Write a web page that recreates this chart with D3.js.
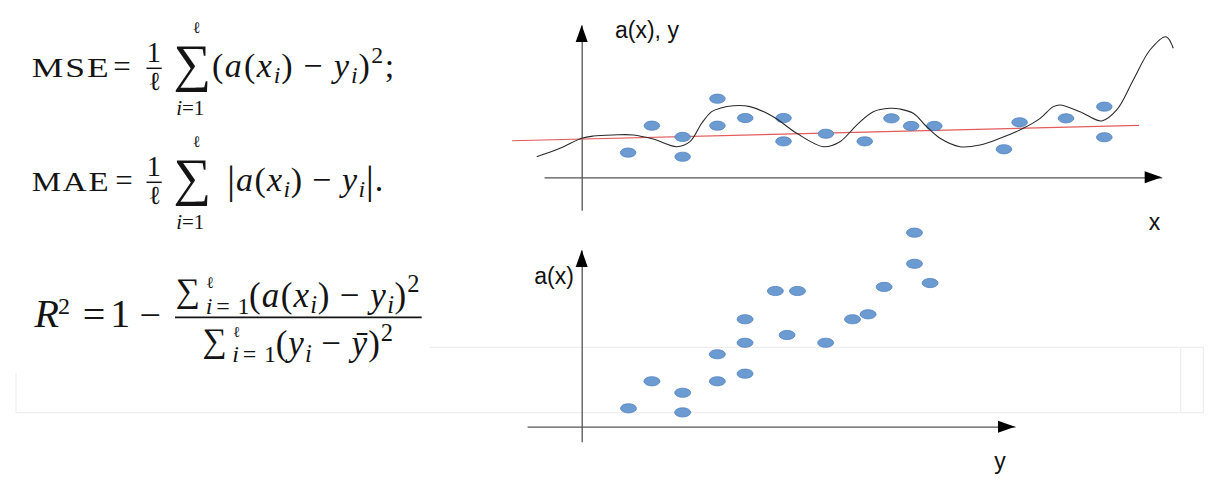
<!DOCTYPE html>
<html>
<head>
<meta charset="utf-8">
<script src="https://cdn.jsdelivr.net/npm/d3@7"></script>
<style>
  html, body { margin: 0; padding: 0; background: #ffffff; }
  svg { display: block; }
</style>
</head>
<body>
<svg id="chart" width="1221" height="496"></svg>
<script>
// ---------------- DATA ----------------
// Top chart: x vs (a(x), y)
const pointX = [8.0, 12.1, 17.4, 17.4, 23.4, 23.4, 28.2, 34.8, 34.8, 42.1, 48.8, 53.4, 56.8, 60.8, 72.8, 75.5, 83.5, 90.1, 90.1];
const pointY = [1.62, 3.39, 2.65, 1.35, 5.16, 3.39, 3.89, 3.89, 2.36, 2.86, 2.36, 3.87, 3.37, 3.37, 1.84, 3.61, 3.87, 4.64, 2.63];
// Overfitted model a(x) (black curve)
const curveX = [-7.76, -3.74, 0, 2.0, 5.45, 8.9, 12.34, 16.38, 18.67, 20.69, 22.41, 23.84, 26.14, 29.02, 33.03, 37.07, 41.66, 44.53, 47.41, 50.28, 53.16, 54.88, 57.17, 59.48, 61.78, 65.22, 68.67, 72.12, 76.14, 79.05, 81.31, 82.47, 85.91, 89.66, 92.24, 95.10, 97.98, 100.74, 102.0];
const curveY = [1.35, 1.90, 2.56, 2.71, 2.78, 2.78, 2.51, 2.01, 2.34, 3.55, 4.31, 4.53, 4.70, 4.64, 3.98, 2.89, 2.01, 2.34, 3.43, 4.31, 4.53, 4.48, 4.20, 3.32, 2.56, 2.01, 2.12, 2.56, 3.22, 3.87, 4.64, 4.75, 4.31, 3.70, 4.42, 6.39, 8.36, 9.23, 8.47];
// Linear model (red line)
const lineX = [-12.0, 96.1];
const lineY = [2.40, 3.41];
// Bottom chart: y (true) vs a(x) (predicted)
const trueY = [1.08, 1.62, 2.33, 2.33, 3.13, 3.13, 3.77, 3.77, 3.77, 4.47, 4.74, 4.98, 5.63, 6.25, 6.61, 6.98, 7.68, 7.68, 8.04];
const predA = [1.04, 2.57, 1.92, 0.81, 4.10, 2.57, 6.08, 4.75, 3.00, 7.68, 5.19, 7.68, 4.75, 6.08, 6.36, 7.91, 10.98, 9.22, 8.13];
// Axis labels
const topYLabel = "a(x), y";
const topXLabel = "x";
const botYLabel = "a(x)";
const botXLabel = "y";

// ---------------- SETUP ----------------
const svg = d3.select("#chart");
svg.append("rect").attr("width", 1221).attr("height", 496).attr("fill", "#ffffff");

// faint frame (screenshot artefact)
svg.append("path")
  .attr("d", "M16,373V412.7H1203.3V347.3H430 M1180.7,347.3V412.7")
  .attr("fill", "none").attr("stroke", "#eeeeee").attr("stroke-width", 1.2);

// ---------------- FORMULAS ----------------
const SERIF = "Liberation Serif";
const INK = "#141414";
const ctx = document.createElement("canvas").getContext("2d");
const I = t => ({t, it: true});
const Rm = t => ({t});
const Sub = (t, it = true) => ({t, it, k: 0.7, dy: 0.18});
const Sup = t => ({t, k: 0.7, dy: -0.42});
const Op = t => ({t, pre: 0.24, post: 0.24});

function measure(ch, size, it) {
  ctx.font = `${it ? "italic " : ""}${size}px "${SERIF}"`;
  const m = ctx.measureText(ch);
  return {w: m.width, l: m.actualBoundingBoxLeft, r: m.actualBoundingBoxRight,
          a: m.actualBoundingBoxAscent, d: m.actualBoundingBoxDescent};
}
function emit(t, ch, x, y, size, it) {
  t.append("tspan").attr("x", x.toFixed(2)).attr("y", y.toFixed(2))
    .attr("font-size", size.toFixed(2)).attr("font-style", it ? "italic" : "normal").text(ch);
}
// lay out a run of characters on a baseline; stretch spacing to span ink [x0,x1], left-align at x0, or centre at cx
function addRun(t, parts, o) {
  const chars = [];
  parts.forEach(p => {
    const cs = [...p.t];
    cs.forEach((c, j) => chars.push({t: c, it: p.it, k: p.k || 1, dy: p.dy || 0,
      pre: j === 0 ? (p.pre || 0) : 0, post: j === cs.length - 1 ? (p.post || 0) : 0}));
  });
  let cx = 0;
  const lay = chars.map(c => {
    const s = o.size * c.k;
    cx += c.pre * o.size;
    const m = measure(c.t, s, c.it);
    const r = {c, s, p: cx, m, y: c.dy * o.size};
    cx += m.w + c.post * o.size;
    return r;
  });
  const first = lay[0], last = lay[lay.length - 1];
  let start, sc = 1;
  if (o.cx !== undefined) {
    const inkL = first.p - first.m.l, inkR = last.p + last.m.r;
    start = o.cx - (inkL + inkR) / 2;
  } else {
    start = o.x0 + first.m.l;
    if (o.x1 !== undefined && lay.length > 1) sc = (o.x1 - o.x0 - first.m.l - last.m.r) / last.p;
  }
  lay.forEach(d => emit(t, d.c.t, start + d.p * sc, o.base + d.y, d.s, d.c.it));
}
// big operator fitted to an ink box by height, centred horizontally
function addBig(t, ch, box) {
  const [x0, y0, x1, y1] = box;
  const m100 = measure(ch, 100, false);
  const size = 100 * (y1 - y0) / (m100.a + m100.d);
  const m = measure(ch, size, false);
  const cx = (x0 + x1) / 2;
  emit(t, ch, cx - (m.r - m.l) / 2, y1 - m.d, size, false);
}
// a roman word, mildly letter-spaced and widened to span ink [x0,x1]
function addWord(g, word, x0, x1, base, size, ls) {
  let w = 0, first = null, last = null;
  const cs = [...word];
  cs.forEach((c, i) => {
    const m = measure(c, size, false);
    if (i === 0) first = m;
    if (i === cs.length - 1) last = {m, p: w};
    w += m.w + ls;
  });
  const inkW = last.p + last.m.r + first.l;
  const sx = (x1 - x0) / inkW;
  g.append("text").attr("font-family", SERIF).attr("fill", INK)
    .attr("font-size", size).attr("letter-spacing", ls)
    .attr("transform", `translate(${x0 + first.l * sx},${base}) scale(${sx},1)`)
    .text(word);
}
function bar(g, x1, x2, y, w) {
  g.append("line").attr("x1", x1).attr("x2", x2).attr("y1", y).attr("y2", y)
    .attr("stroke", INK).attr("stroke-width", w);
}
const fg = svg.append("g");
function newText() { return fg.append("text").attr("font-family", SERIF).attr("fill", INK); }

function sumLine(dy, label, rest, restX0, restX1) {
  addWord(fg, label, 31.7, 108, 77.3 + dy, 27, 1.5);
  const t = newText();
  addRun(t, [Rm("=")], {cx: 121.8 + (dy ? 2 : 0), base: 77.3 + dy, size: 31});
  addRun(t, [Rm("1")], {cx: 154, base: 62 + dy, size: 29});
  bar(fg, 146.5, 161.7, 68.3 + dy, 1.5);
  addRun(t, [Rm("ℓ")], {cx: 154.5, base: 90 + dy, size: 26});
  addBig(t, "∑", [171.7, 46.7 + dy, 211.7, 93.3 + dy]);
  addRun(t, [Rm("ℓ")], {cx: 197, base: 33 + dy, size: 16});
  addRun(t, [I("i"), Rm("="), Rm("1")], {cx: 190.5, base: 115 + dy, size: 21});
  addRun(t, rest, {x0: restX0, x1: restX1, base: 77.3 + dy, size: 34});
}
sumLine(0, "MSE",
  [Rm("("), I("a"), Rm("("), I("x"), Sub("i"), Rm(")"), Op("−"), I("y"), Sub("i"), Rm(")"), Sup("2"), Rm(";")],
  213, 391.7);
sumLine(114, "MAE",
  [{t: "|", k: 1.2, dy: 0.05}, I("a"), Rm("("), I("x"), Sub("i"), Rm(")"), Op("−"), I("y"), Sub("i"), {t: "|", k: 1.2, dy: 0.05}, Rm(".")],
  230, 381.7);

// R^2
{
  const t = newText();
  addRun(t, [I("R")], {cx: 46, base: 326.7, size: 40});
  addRun(t, [Rm("2")], {cx: 64, base: 313.5, size: 24});
  addRun(t, [Rm("=")], {cx: 94.2, base: 328, size: 40});
  addRun(t, [Rm("1")], {cx: 120.7, base: 326.7, size: 40});
  addRun(t, [Rm("−")], {cx: 150, base: 327.5, size: 38});
  bar(fg, 175, 421.7, 317.3, 1.7);
  addBig(t, "∑", [175, 280, 200, 310]);
  addRun(t, [Rm("ℓ")], {cx: 210.5, base: 287.5, size: 16});
  addRun(t, [I("i"), Rm("="), Rm("1")], {x0: 206.7, x1: 248.5, base: 314, size: 24});
  addRun(t, [Rm("("), I("a"), Rm("("), I("x"), Sub("i"), Rm(")"), Op("−"), I("y"), Sub("i"), Rm(")"), Sup("2")],
    {x0: 250, x1: 418.3, base: 306.8, size: 35});
  addBig(t, "∑", [201.7, 330, 226.7, 360]);
  addRun(t, [Rm("ℓ")], {cx: 236.7, base: 336.5, size: 15});
  addRun(t, [I("i"), Rm("="), Rm("1")], {x0: 233.3, x1: 275, base: 362, size: 24});
  addRun(t, [Rm("("), I("y"), Sub("i"), Op("−"), I("ȳ"), Rm(")"), Sup("2")],
    {x0: 276.7, x1: 391.7, base: 355.2, size: 35});
}

// ---------------- CHARTS ----------------
const AXIS = "#555555";
const DOT = "#6c9bd2", DOT_STROKE = "#5283c0";
const LABEL_FONT = "Liberation Sans";

function arrow(g, tip, dir) {
  const [x, y] = tip, L = 17, W = 6;
  let d;
  if (dir === "up") d = `M${x},${y}L${x - W},${y + L}L${x + W},${y + L}Z`;
  else d = `M${x},${y}L${x - L},${y - W}L${x - L},${y + W}Z`;
  g.append("path").attr("d", d).attr("fill", "#000");
}

function drawAxes(g, x, y, xMin, xMax, yMin, yMax) {
  const xa = x.copy().domain([xMin, xMax]).range([x(xMin), x(xMax)]);
  const ya = y.copy().domain([yMin, yMax]).range([y(yMin), y(yMax)]);
  g.append("g").attr("transform", `translate(0,${y(0)})`)
    .call(d3.axisBottom(xa).tickValues([]).tickSizeOuter(0))
    .call(s => s.select(".domain").attr("stroke", AXIS).attr("stroke-width", 1.3));
  g.append("g").attr("transform", `translate(${x(0)},0)`)
    .call(d3.axisLeft(ya).tickValues([]).tickSizeOuter(0))
    .call(s => s.select(".domain").attr("stroke", AXIS).attr("stroke-width", 1.3));
  arrow(g, [x(xMax), y(0)], "right");
  arrow(g, [x(0), y(yMax)], "up");
}

// Top chart
const xT = d3.scaleLinear([0, 100], [581.7, 1161.7]);
const yT = d3.scaleLinear([0, 10], [177.3, 25]);
const gT = svg.append("g");
drawAxes(gT, xT, yT, -6.5, 100, -2.17, 10);

gT.append("path")
  .datum(d3.zip(lineX, lineY))
  .attr("d", d3.line().x(d => xT(d[0])).y(d => yT(d[1])))
  .attr("fill", "none").attr("stroke", "#e35b5b").attr("stroke-width", 1.2);

gT.selectAll("ellipse").data(d3.zip(pointX, pointY)).join("ellipse")
  .attr("cx", d => xT(d[0])).attr("cy", d => yT(d[1]))
  .attr("rx", 7.8).attr("ry", 4.6)
  .attr("fill", DOT).attr("stroke", DOT_STROKE).attr("stroke-width", 0.8);

gT.append("path")
  .datum(d3.zip(curveX, curveY))
  .attr("d", d3.line().x(d => xT(d[0])).y(d => yT(d[1])).curve(d3.curveCatmullRom.alpha(0.5)))
  .attr("fill", "none").attr("stroke", "#2a2a2a").attr("stroke-width", 1.1);

gT.append("text").attr("x", 615).attr("y", 38).attr("font-family", LABEL_FONT)
  .attr("font-size", 23).attr("fill", "#111").text(topYLabel);
gT.append("text").attr("x", 1154.5).attr("y", 230).attr("text-anchor", "middle")
  .attr("font-family", LABEL_FONT).attr("font-size", 23).attr("fill", "#111").text(topXLabel);

// Bottom chart
const xB = d3.scaleLinear([0, 10], [581.7, 1015]);
const yB = d3.scaleLinear([0, 10], [426.7, 250]);
const gB = svg.append("g");
drawAxes(gB, xB, yB, -1.26, 10, -0.85, 10);

gB.selectAll("ellipse").data(d3.zip(trueY, predA)).join("ellipse")
  .attr("cx", d => xB(d[0])).attr("cy", d => yB(d[1]))
  .attr("rx", 8).attr("ry", 4.6)
  .attr("fill", DOT).attr("stroke", DOT_STROKE).attr("stroke-width", 0.8);

gB.append("text").attr("x", 534.3).attr("y", 283.5).attr("font-family", LABEL_FONT)
  .attr("font-size", 23).attr("fill", "#111").text(botYLabel);
gB.append("text").attr("x", 1000).attr("y", 469).attr("text-anchor", "middle")
  .attr("font-family", LABEL_FONT).attr("font-size", 23).attr("fill", "#111").text(botXLabel);
</script>
</body>
</html>
